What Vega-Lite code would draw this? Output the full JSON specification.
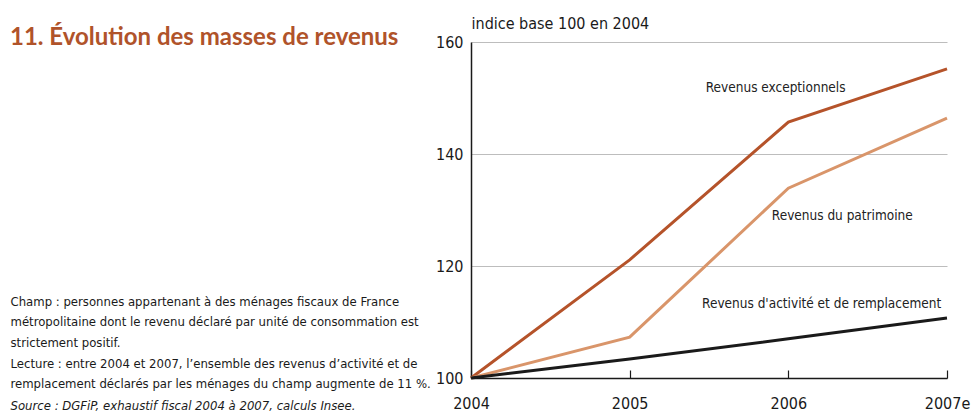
{
  "$schema": "https://vega.github.io/schema/vega-lite/v6.json",
  "width": 476,
  "height": 336,
  "autosize": {"type": "none"},
  "padding": {"left": 471, "top": 42, "right": 24, "bottom": 35},
  "background": "white",
  "config": {"view": {"stroke": null}, "font": "DejaVu Sans Condensed, Liberation Sans Narrow, sans-serif"},
  "title": {
    "text": "11. Évolution des masses de revenus",
    "anchor": "start",
    "frame": "group",
    "dx": -461,
    "font": "Lato",
    "fontSize": 24,
    "fontWeight": "bold",
    "color": "#B0532A",
    "baseline": "alphabetic",
    "offset": 0,
    "dy": 54
  },
  "datasets": {
    "series": [
      {"serie": "Revenus exceptionnels", "annee": 2004, "valeur": 100},
      {"serie": "Revenus exceptionnels", "annee": 2005, "valeur": 121.1},
      {"serie": "Revenus exceptionnels", "annee": 2006, "valeur": 145.7},
      {"serie": "Revenus exceptionnels", "annee": 2007, "valeur": 155.2},
      {"serie": "Revenus du patrimoine", "annee": 2004, "valeur": 100},
      {"serie": "Revenus du patrimoine", "annee": 2005, "valeur": 107.3},
      {"serie": "Revenus du patrimoine", "annee": 2006, "valeur": 133.9},
      {"serie": "Revenus du patrimoine", "annee": 2007, "valeur": 146.4},
      {"serie": "Revenus d'activité et de remplacement", "annee": 2004, "valeur": 100},
      {"serie": "Revenus d'activité et de remplacement", "annee": 2005, "valeur": 103.4},
      {"serie": "Revenus d'activité et de remplacement", "annee": 2006, "valeur": 107.0},
      {"serie": "Revenus d'activité et de remplacement", "annee": 2007, "valeur": 110.7}
    ],
    "labels": [
      {"label": "Revenus exceptionnels", "annee": 2005.92, "valeur": 151.8},
      {"label": "Revenus du patrimoine", "annee": 2006.34, "valeur": 128.9},
      {"label": "Revenus d'activité et de remplacement", "annee": 2006.21, "valeur": 113.2}
    ]
  },
  "layer": [
    {
      "data": {"name": "series"},
      "mark": {"type": "line", "strokeWidth": 3},
      "encoding": {
        "x": {
          "field": "annee",
          "type": "quantitative",
          "scale": {"domain": [2004, 2007], "nice": false, "zero": false},
          "axis": {
            "values": [2004, 2005, 2006, 2007],
            "format": "d",
            "labelExpr": "datum.value == 2007 ? '2007e' : datum.label",
            "labelFontSize": 16,
            "labelColor": "#1a1a1a",
            "labelPadding": 25,
            "labelFlush": false,
            "tickSize": -8,
            "tickColor": "#1a1a1a",
            "tickWidth": 1.2,
            "domainColor": "#1a1a1a",
            "domainWidth": 1.5,
            "grid": false,
            "title": [
              "Champ : personnes appartenant à des ménages fiscaux de France",
              "métropolitaine dont le revenu déclaré par unité de consommation est",
              "strictement positif.",
              "Lecture : entre 2004 et 2007, l’ensemble des revenus d’activité et de",
              "remplacement déclarés par les ménages du champ augmente de 11 %."
            ],
            "titleFontSize": 13,
            "titleFontWeight": "normal",
            "titleColor": "#1a1a1a",
            "titleX": -461,
            "titleY": -83,
            "titleAlign": "left",
            "titleBaseline": "top",
            "titleLineHeight": 20.7
          }
        },
        "y": {
          "field": "valeur",
          "type": "quantitative",
          "scale": {"domain": [100, 160], "nice": false, "zero": false},
          "axis": {
            "values": [100, 120, 140, 160],
            "labelFontSize": 16,
            "labelColor": "#1a1a1a",
            "labelPadding": 8,
            "ticks": false,
            "domainColor": "#1a1a1a",
            "domainWidth": 1.5,
            "grid": true,
            "gridColor": "#bdbdbd",
            "gridWidth": 1,
            "title": "indice base 100 en 2004",
            "titleAngle": 0,
            "titleX": 0,
            "titleY": -14,
            "titleAlign": "left",
            "titleBaseline": "alphabetic",
            "titleFontSize": 16,
            "titleFontWeight": "normal",
            "titleColor": "#1a1a1a"
          }
        },
        "color": {
          "field": "serie",
          "type": "nominal",
          "scale": {
            "domain": ["Revenus exceptionnels", "Revenus du patrimoine", "Revenus d'activité et de remplacement"],
            "range": ["#B5532A", "#D9956A", "#1a1a1a"]
          },
          "legend": null
        }
      }
    },
    {
      "data": {"name": "labels"},
      "mark": {"type": "text", "fontSize": 13.5, "color": "#222222"},
      "encoding": {
        "x": {"field": "annee", "type": "quantitative"},
        "y": {
          "field": "valeur",
          "type": "quantitative",
          "axis": {
            "orient": "right",
            "labels": false,
            "ticks": false,
            "domain": false,
            "grid": false,
            "title": "Source : DGFiP, exhaustif fiscal 2004 à 2007, calculs Insee.",
            "titleFontStyle": "italic",
            "titleFontWeight": "normal",
            "titleFontSize": 13,
            "titleColor": "#1a1a1a",
            "titleAngle": 0,
            "titleX": -937,
            "titleY": 367,
            "titleAlign": "left",
            "titleBaseline": "alphabetic"
          }
        },
        "text": {"field": "label"}
      }
    }
  ],
  "resolve": {"axis": {"y": "independent"}}
}
